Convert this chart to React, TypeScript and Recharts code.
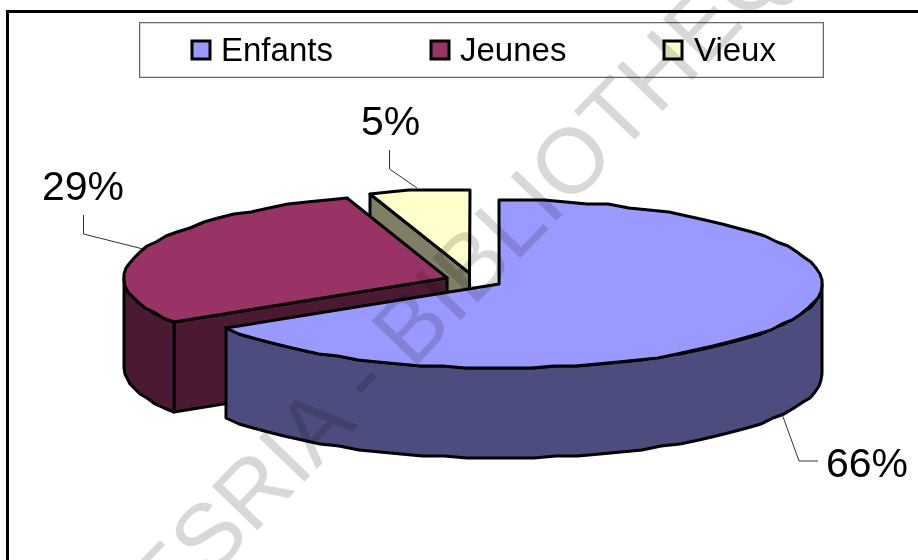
import React from 'react';
import { PieChart, Pie, Legend } from 'recharts';

const names = ['Vieux', 'Jeunes', 'Enfants'];
const values = [5, 29, 66];
const colors = ['#FFFFCC', '#993366', '#9999FF'];
const wallColors = ['#7F7F66', '#4C1933', '#4C4C7F'];

const rows = names.map((name, i) => ({ name, value: values[i], fill: colors[i], wall: wallColors[i] }));

/* fake 3d: squash factor, wall height and explosion of the slices */
const SQUASH = 0.26;
const DEPTH = 90;
const EXPLODE = 0.0886;
const STEP = 4;

/* label text start + leader line, px */
const labelSpots: Record<string, { x: number; y: number; line: string }> = {
    Vieux: { x: 361, y: 135, line: '389.5,150 389.5,169 417,188' },
    Jeunes: { x: 42, y: 200, line: '83.5,215 83.5,234 143,249' },
    Enfants: { x: 826, y: 477, line: '782,414 799,461 818,461' },
};

const legendSpots: Record<string, { box: number; text: number }> = {
    Enfants: { box: 53, text: 82 },
    Jeunes: { box: 292, text: 321 },
    Vieux: { box: 525, text: 555 },
};

const rad = (d: number) => (d * Math.PI) / 180;

const Slice3D = (props: any) => {
    const { cx, cy, outerRadius: r, startAngle, endAngle, fill, payload } = props;
    // t: clockwise from the top of the pie
    const t2 = 90 - startAngle;
    const t1 = 90 - endAngle;
    const tm = (t1 + t2) / 2;
    const ax = cx + EXPLODE * r * Math.sin(rad(tm));
    const ay = cy - EXPLODE * r * SQUASH * Math.cos(rad(tm));
    const pt = (t: number, drop = 0): [number, number] => [
        Math.round(ax + r * Math.sin(rad(t))),
        Math.round((ay - r * SQUASH * Math.cos(rad(t)) + drop) / 2) * 2,
    ];
    const arc = (from: number, to: number, drop = 0) => {
        const pts: [number, number][] = [];
        const n = Math.max(1, Math.ceil((to - from) / STEP));
        for (let i = 0; i <= n; i++) pts.push(pt(from + ((to - from) * i) / n, drop));
        return pts;
    };
    const toPoints = (pts: [number, number][]) => pts.map((p) => p.join(',')).join(' ');
    const apex: [number, number] = [ax, ay];
    const apexLow: [number, number] = [ax, ay + DEPTH];

    const faces: [number, number][][] = [];
    if (Math.sin(rad(t1)) < -0.01) faces.push([apex, pt(t1), pt(t1, DEPTH), apexLow]);
    if (Math.sin(rad(t2)) > 0.01) faces.push([apex, pt(t2), pt(t2, DEPTH), apexLow]);

    const wallFrom = Math.max(t1, -270);
    const wallTo = Math.min(t2, -90);
    const wall = wallFrom < wallTo ? [...arc(wallFrom, wallTo), ...arc(wallFrom, wallTo, DEPTH).reverse()] : null;

    const edge = { stroke: '#000', strokeWidth: 3, strokeLinejoin: 'round' as const };
    return (
        <g>
            {faces.map((f, i) => (
                <polygon key={i} points={toPoints(f)} fill={payload.wall} {...edge} />
            ))}
            {wall && <polygon points={toPoints(wall)} fill={payload.wall} {...edge} />}
            <polygon points={toPoints([apex, ...arc(t1, t2)])} fill={fill} {...edge} />
        </g>
    );
};

const renderLabel = (props: any) => {
    const spot = labelSpots[props.name];
    return (
        <g>
            <polyline points={spot.line} fill="none" stroke="#333" strokeWidth={1} />
            <text x={spot.x} y={spot.y} fontSize={41} fontFamily="Liberation Sans" fill="#000">
                {`${props.value}%`}
            </text>
        </g>
    );
};

const renderLegend = (props: any) => {
    const items = [...(props.payload || [])].reverse();
    return (
        <svg width={685} height={56} style={{ display: 'block' }}>
            <rect x={0.5} y={0.5} width={684} height={55} fill="#fff" stroke="#666" strokeWidth={1.5} />
            {items.map((item: any) => {
                const spot = legendSpots[item.value];
                return (
                    <g key={item.value}>
                        <rect x={spot.box} y={19} width={18} height={18} fill={item.color} stroke="#000" strokeWidth={3} />
                        <text x={spot.text} y={39} fontSize={33} fontFamily="Liberation Sans" fill="#000">
                            {item.value}
                        </text>
                    </g>
                );
            })}
        </svg>
    );
};

export default function App() {
    return (
        <div style={{ position: 'absolute', left: 0, top: 0, width: 918, height: 560, overflow: 'hidden', background: '#fff' }}>
            <div style={{ position: 'absolute', left: 6, top: 10, width: 940, height: 600, border: '3px solid #000' }} />
            <div style={{ position: 'absolute', left: 0, top: 0 }}>
                <PieChart width={918} height={560} margin={{ top: 0, right: 0, bottom: 0, left: 0 }}>
                    <Pie
                        data={rows}
                        dataKey="value"
                        nameKey="name"
                        cx={474}
                        cy={280.4}
                        innerRadius={0}
                        outerRadius={323}
                        startAngle={90}
                        endAngle={450}
                        stroke="none"
                        shape={Slice3D}
                        label={renderLabel}
                        labelLine={false}
                        isAnimationActive={false}
                    />
                    <Legend content={renderLegend} wrapperStyle={{ left: 139, top: 22, width: 685, height: 56 }} />
                </PieChart>
            </div>
            <svg width={918} height={560} style={{ position: 'absolute', left: 0, top: 0, mixBlendMode: 'multiply', pointerEvents: 'none' }}>
                <text
                    transform="translate(25 771) rotate(-46)"
                    fontSize={92}
                    fontFamily="Liberation Sans"
                    fill="#d8d8d8"
                >
                    CODESRIA - BIBLIOTHEQUE
                </text>
            </svg>
        </div>
    );
}
